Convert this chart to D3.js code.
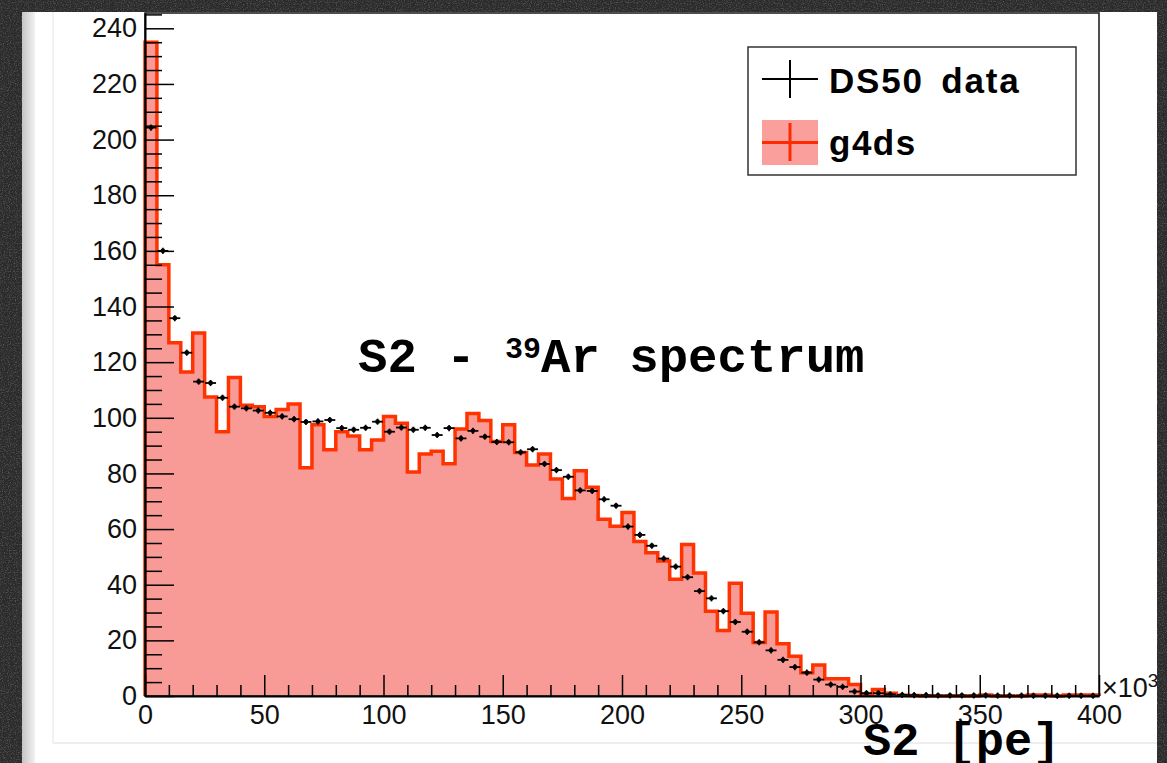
<!DOCTYPE html>
<html>
<head>
<meta charset="utf-8">
<script src="https://cdn.jsdelivr.net/npm/d3@7"></script>
<style>
  html, body { margin: 0; padding: 0; background: #2e2e2e; overflow: hidden; }
  svg { display: block; }
</style>
</head>
<body>
<svg id="chart" width="1167" height="763"></svg>
<script>
// S2 spectrum of 39Ar: DS50 data vs g4ds simulation, 80 bins of 5 (x10^3 pe) from 0 to 400

const xTickLabels = ["0", "50", "100", "150", "200", "250", "300", "350", "400"];
const yTickLabels = ["0", "20", "40", "60", "80", "100", "120", "140", "160", "180", "200", "220", "240"];
const binWidth = 5;

// g4ds simulated spectrum (one entry per bin)
const g4dsCounts = [
  235, 155, 127, 116.5, 130.5, 107.5, 95, 114.5, 104.5, 104,
  100.5, 103, 105, 82, 97.5, 88.5, 95, 93.5, 88.5, 92,
  100.5, 98, 80.5, 87, 88, 83.5, 96, 101.5, 99, 91.5,
  97.5, 87.5, 83, 87, 78, 71, 81, 75, 63.5, 61,
  66, 55.5, 51.5, 48.5, 42, 54.5, 44.2, 30.5, 23.5, 40.5,
  29.7, 19.2, 30.2, 18.8, 14.3, 8.4, 11.1, 6.2, 6.2, 4.1,
  0.7, 2.3, 1.0, 0.3, 0.2, 0, 0, 0, 0, 0,
  0.4, 0, 0, 0, 0.4, 0.4, 0, 0.4, 0.4, 0.4
];

// DS50 measured spectrum (one entry per bin)
const ds50Counts = [
  204.3, 160, 135.8, 123.4, 113, 112.5, 107.2, 104, 103.4, 102.6,
  101.8, 100.5, 99.5, 98.5, 98.7, 99.2, 96.3, 95.7, 96.4, 98.6,
  95, 96.5, 95.7, 96.4, 93.8, 96.3, 92.6, 95.3, 93.2, 91.3,
  91.2, 87.6, 88.7, 83.4, 81.2, 78.8, 73.9, 73.7, 70.7, 68.4,
  60.9, 57.9, 54, 49.4, 46.5, 42.7, 37.7, 35.1, 30.5, 26.6,
  23.1, 19.3, 16.4, 13, 10.4, 8.4, 5.9, 4.1, 3.3, 1.6,
  1.0, 1.0, 0.6, 0.4, 0.3, 0.3, 0.2, 0.2, 0.2, 0.2,
  0.2, 0.15, 0.15, 0.15, 0.1, 0.1, 0.1, 0.1, 0.1, 0.1
];
const ds50ErrHalf = 1.1;

const W = 1167, H = 763;
const plot = { left: 145, right: 1099, top: 13, bottom: 696 };
const panel = { x: 22, y: 12, w: 1135, h: 751 };

const svg = d3.select("#chart");
const defs = svg.append("defs");

// grainy dark backdrop
const grain = defs.append("filter").attr("id", "grain")
  .attr("x", 0).attr("y", 0).attr("width", "100%").attr("height", "100%");
grain.append("feTurbulence").attr("type", "fractalNoise")
  .attr("baseFrequency", 0.85).attr("numOctaves", 2).attr("seed", 7).attr("stitchTiles", "stitch");
grain.append("feColorMatrix").attr("type", "matrix")
  .attr("values", "0 0 0 0 1  0 0 0 0 1  0 0 0 0 1  0 0 0 1.6 -0.75");

const edgeGrad = defs.append("linearGradient").attr("id", "edgeGrad")
  .attr("x1", 0).attr("x2", 1).attr("y1", 0).attr("y2", 0);
edgeGrad.append("stop").attr("offset", 0).attr("stop-color", "#c4c4c4");
edgeGrad.append("stop").attr("offset", 1).attr("stop-color", "#f2f2f2");

defs.append("clipPath").attr("id", "panelClip")
  .append("rect").attr("x", panel.x).attr("y", panel.y).attr("width", panel.w).attr("height", panel.h);

svg.append("rect").attr("width", W).attr("height", H).attr("fill", "#2b2b2b");
svg.append("rect").attr("width", W).attr("height", H).attr("filter", "url(#grain)").attr("opacity", 0.35);

const g = svg.append("g").attr("clip-path", "url(#panelClip)");

// white canvas with its shaded left edge and faint inner border
g.append("rect").attr("x", panel.x).attr("y", panel.y).attr("width", panel.w).attr("height", panel.h).attr("fill", "#ffffff");
g.append("rect").attr("x", panel.x).attr("y", panel.y).attr("width", 13).attr("height", panel.h).attr("fill", "url(#edgeGrad)");
g.append("line").attr("x1", 53).attr("x2", 53).attr("y1", panel.y).attr("y2", 743)
  .attr("stroke", "#ececec").attr("stroke-width", 1.5);
g.append("line").attr("x1", 53).attr("x2", panel.x + panel.w).attr("y1", 743).attr("y2", 743)
  .attr("stroke", "#e8e8e8").attr("stroke-width", 1.5);

const x = d3.scaleLinear().domain([0, 400]).range([plot.left, plot.right]);
const y = d3.scaleLinear().domain([0, 245.5]).range([plot.bottom, plot.top]);

// g4ds histogram: filled steps with a red outline
const stepPts = [[0, 0]];
g4dsCounts.forEach((v, i) => {
  stepPts.push([i * binWidth, v]);
  stepPts.push([(i + 1) * binWidth, v]);
});
stepPts.push([g4dsCounts.length * binWidth, 0]);

const stepLine = d3.line().x(d => x(d[0])).y(d => y(d[1]));
g.append("path").attr("d", stepLine(stepPts) + "Z").attr("fill", "#f89a96").attr("stroke", "none");
g.append("path").attr("d", stepLine(stepPts)).attr("fill", "none")
  .attr("stroke", "#ff3300").attr("stroke-width", 3.5).attr("stroke-linejoin", "miter");

// DS50 data points with bin-wide horizontal bars
const pts = g.append("g");
ds50Counts.forEach((v, i) => {
  const x0 = x(i * binWidth), x1 = x((i + 1) * binWidth), xc = x((i + 0.5) * binWidth);
  pts.append("line").attr("x1", x0 + 0.5).attr("x2", x1 - 0.5).attr("y1", y(v)).attr("y2", y(v))
    .attr("stroke", "#000").attr("stroke-width", 1.8);
  pts.append("line").attr("x1", xc).attr("x2", xc).attr("y1", y(v - ds50ErrHalf)).attr("y2", y(v + ds50ErrHalf))
    .attr("stroke", "#000").attr("stroke-width", 1.6);
  pts.append("circle").attr("cx", xc).attr("cy", y(v)).attr("r", 2.4).attr("fill", "#000");
});

// frame
g.append("rect").attr("x", plot.left).attr("y", plot.top)
  .attr("width", plot.right - plot.left).attr("height", plot.bottom - plot.top)
  .attr("fill", "none").attr("stroke", "#222").attr("stroke-width", 1.6);

const tickFont = "'Liberation Sans', Arial, Helvetica, sans-serif";

// y axis: major ticks every 20, minor every 5, drawn inward
const yMajor = yTickLabels.map(Number);
const yMinor = d3.range(0, 246, 5).filter(v => v % 20 !== 0);
g.append("g").attr("transform", `translate(${plot.left},0)`)
  .call(d3.axisLeft(y).tickValues(yMinor).tickSizeInner(-17).tickSizeOuter(0).tickFormat(""))
  .call(a => a.select(".domain").remove())
  .call(a => a.selectAll("line").attr("stroke", "#000").attr("stroke-width", 1.5));
g.append("g").attr("transform", `translate(${plot.left},0)`)
  .call(d3.axisLeft(y).tickValues(yMajor).tickSizeInner(-29).tickSizeOuter(0).tickPadding(8)
    .tickFormat((d, i) => yTickLabels[i]))
  .call(a => a.select(".domain").attr("stroke", "#000").attr("stroke-width", 2))
  .call(a => a.selectAll("line").attr("stroke", "#000").attr("stroke-width", 1.5))
  .call(a => a.selectAll("text").attr("font-family", tickFont).attr("font-size", 27).attr("fill", "#111"));

// x axis: major ticks every 50, minor every 10, drawn inward
const xMajor = xTickLabels.map(Number);
const xMinor = d3.range(0, 401, 10).filter(v => v % 50 !== 0);
g.append("g").attr("transform", `translate(0,${plot.bottom})`)
  .call(d3.axisBottom(x).tickValues(xMinor).tickSizeInner(-11).tickSizeOuter(0).tickFormat(""))
  .call(a => a.select(".domain").remove())
  .call(a => a.selectAll("line").attr("stroke", "#000").attr("stroke-width", 1.5));
g.append("g").attr("transform", `translate(0,${plot.bottom})`)
  .call(d3.axisBottom(x).tickValues(xMajor).tickSizeInner(-21).tickSizeOuter(0).tickPadding(9)
    .tickFormat((d, i) => xTickLabels[i]))
  .call(a => a.select(".domain").attr("stroke", "#000").attr("stroke-width", 2))
  .call(a => a.selectAll("line").attr("stroke", "#000").attr("stroke-width", 1.5))
  .call(a => a.selectAll("text").attr("font-family", tickFont).attr("font-size", 27).attr("fill", "#111"));

// x10^3 exponent (its superscript runs into the canvas edge)
const expo = g.append("text").attr("x", plot.right + 3).attr("y", plot.bottom + 1)
  .attr("font-family", tickFont).attr("font-size", 27).attr("fill", "#111");
expo.append("tspan").text("×10");
expo.append("tspan").attr("font-size", 19).attr("dy", -10).text("3");

// titles
const monoFont = "'Liberation Mono', 'Courier New', monospace";
const title = g.append("text").attr("x", 358).attr("y", 372)
  .attr("font-family", monoFont).attr("font-weight", "bold").attr("font-size", 49).attr("fill", "#000");
title.append("tspan").text("S2 - ");
title.append("tspan").attr("font-size", 30).attr("dy", -14).text("39");
title.append("tspan").attr("dy", 14).text("Ar spectrum");

g.append("text").attr("x", 863).attr("y", 755)
  .attr("font-family", monoFont).attr("font-weight", "bold").attr("font-size", 47).attr("fill", "#000")
  .text("S2 [pe]");

// legend
const leg = g.append("g");
leg.append("rect").attr("x", 748).attr("y", 47).attr("width", 328).attr("height", 128)
  .attr("fill", "#fff").attr("stroke", "#333").attr("stroke-width", 1.5);
leg.append("line").attr("x1", 762).attr("x2", 818).attr("y1", 79).attr("y2", 79).attr("stroke", "#000").attr("stroke-width", 2);
leg.append("line").attr("x1", 790).attr("x2", 790).attr("y1", 60).attr("y2", 98).attr("stroke", "#000").attr("stroke-width", 2);
leg.append("text").attr("x", 829).attr("y", 93).attr("font-family", tickFont).attr("font-weight", "bold")
  .attr("font-size", 35).attr("letter-spacing", 1.8).attr("word-spacing", 6).attr("fill", "#000").text("DS50 data");

leg.append("rect").attr("x", 762).attr("y", 120).attr("width", 56).attr("height", 45).attr("fill", "#fb9f9c");
leg.append("line").attr("x1", 762).attr("x2", 818).attr("y1", 142.5).attr("y2", 142.5).attr("stroke", "#ff2a00").attr("stroke-width", 3);
leg.append("line").attr("x1", 790).attr("x2", 790).attr("y1", 123).attr("y2", 161).attr("stroke", "#ff2a00").attr("stroke-width", 3);
leg.append("text").attr("x", 829).attr("y", 155).attr("font-family", tickFont).attr("font-weight", "bold")
  .attr("font-size", 35).attr("letter-spacing", 1.5).attr("fill", "#000").text("g4ds");
</script>
</body>
</html>
